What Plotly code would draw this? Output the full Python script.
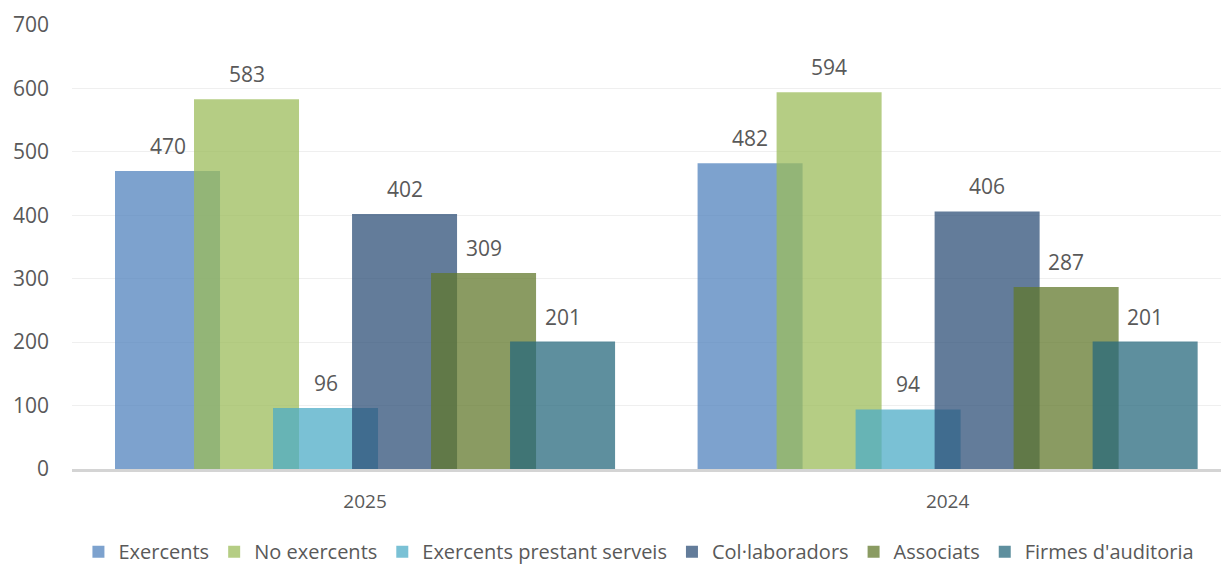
import plotly.graph_objects as go

categories = ["2025", "2024"]
series_names = ["Exercents", "No exercents", "Exercents prestant serveis",
                "Col·laboradors", "Associats", "Firmes d'auditoria"]
values = {
    "Exercents": [470, 482],
    "No exercents": [583, 594],
    "Exercents prestant serveis": [96, 94],
    "Col·laboradors": [402, 406],
    "Associats": [309, 287],
    "Firmes d'auditoria": [201, 201],
}
colors = ["rgba(79,129,189,0.74)", "rgba(155,187,89,0.74)", "rgba(75,172,198,0.74)",
          "rgba(45,78,119,0.74)", "rgba(97,120,43,0.74)", "rgba(38,104,124,0.74)"]
y_ticks = [0, 100, 200, 300, 400, 500, 600, 700]

FONT = "Open Sans"
TXT = "#595959"

unit = 582.5          # px per category
bar_w = 105 / unit
step = 79 / unit
start = -250 / unit

fig = go.Figure()
annotations = []
for i, name in enumerate(series_names):
    off = start + i * step
    fig.add_trace(go.Bar(
        name=name, x=categories, y=values[name],
        offset=off, width=bar_w,
        marker=dict(color=colors[i], line=dict(width=0)),
        hoverinfo="skip",
    ))
    for ci, v in enumerate(values[name]):
        annotations.append(dict(
            x=ci + off + bar_w / 2, y=v, xref="x", yref="y",
            text=str(v), showarrow=False, yanchor="bottom", yshift=9,
            font=dict(family=FONT, size=21, color=TXT),
        ))

fig.update_layout(
    width=1221, height=557,
    margin=dict(l=64, r=0, t=17, b=96, autoexpand=False),
    barmode="overlay",
    plot_bgcolor="white", paper_bgcolor="white",
    showlegend=True,
    legend=dict(orientation="h", x=0.49, xanchor="center",
                yref="container", y=0.024, yanchor="middle",
                font=dict(family=FONT, size=20, color=TXT), itemwidth=30,
                traceorder="normal"),
    annotations=annotations,
    xaxis=dict(type="category", range=[-0.503, 1.483], showgrid=False,
               showline=True, linecolor="#d4d4d4", linewidth=3,
               ticks="", tickfont=dict(family=FONT, size=19, color=TXT),
               ticklabelstandoff=13),
    yaxis=dict(range=[0, 700], tickvals=y_ticks, showgrid=True, gridcolor="#efefef",
               gridwidth=1, zeroline=False, showline=False, ticks="",
               tickfont=dict(family=FONT, size=21, color=TXT), ticklabelstandoff=22),
)

fig.write_html("out.html")
